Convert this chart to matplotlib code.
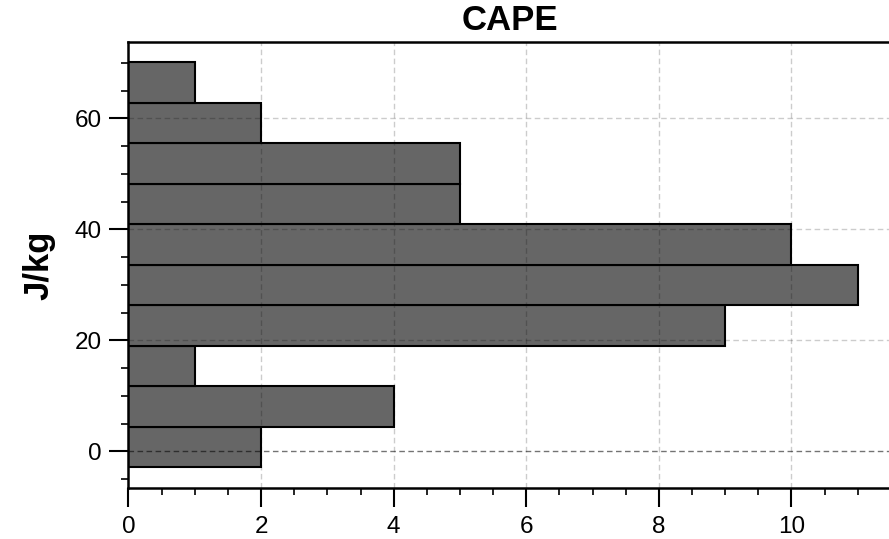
import numpy as np
import matplotlib
matplotlib.use('Agg')
import matplotlib.pyplot as plt
from matplotlib.ticker import MultipleLocator

# histogram of CAPE values (J/kg), bins
bin_start = -2.9
bin_width = 7.3
counts = [2, 4, 1, 9, 11, 10, 5, 5, 2, 1]

plt.rcParams['font.family'] = ['Liberation Sans', 'DejaVu Sans']

fig = plt.figure(figsize=(8.89, 5.39), dpi=100)
ax = fig.add_axes([0.1445, 0.0946, 0.8577, 0.8275])

edges = bin_start + bin_width * np.arange(len(counts))
ax.barh(edges, counts, height=bin_width, align='edge',
        color='#666666', edgecolor='black', linewidth=1.5, zorder=2)

# grid on top of the bars
dash = (0, (4, 2.5))
for xv in [2, 4, 6, 8, 10]:
    ax.axvline(xv, color='black', alpha=0.2, linestyle=dash, linewidth=1, zorder=3)
for yv in [20, 40, 60]:
    ax.axhline(yv, color='black', alpha=0.2, linestyle=dash, linewidth=1, zorder=3)
ax.axhline(0, color='black', alpha=0.55, linestyle=dash, linewidth=1, zorder=3)

ax.set_xlim(0, 11.5)
ax.set_ylim(-6.6, 73.75)

ax.xaxis.set_major_locator(MultipleLocator(2))
ax.xaxis.set_minor_locator(MultipleLocator(0.5))
ax.yaxis.set_major_locator(MultipleLocator(20))
ax.yaxis.set_minor_locator(MultipleLocator(5))

ax.tick_params(axis='both', which='major', length=14, width=1.5,
               labelsize=17.5, direction='out')
ax.tick_params(axis='both', which='minor', length=5, width=1.2, direction='out')
ax.tick_params(axis='x', which='major', pad=6)
ax.tick_params(axis='y', which='major', pad=5)

for s in ax.spines.values():
    s.set_linewidth(1.8)

ax.set_title('CAPE', fontsize=25, fontweight='bold', pad=8.5)
ax.set_ylabel('J/kg', fontsize=25, fontweight='bold', labelpad=14)

fig.savefig('out.png', dpi=100)
